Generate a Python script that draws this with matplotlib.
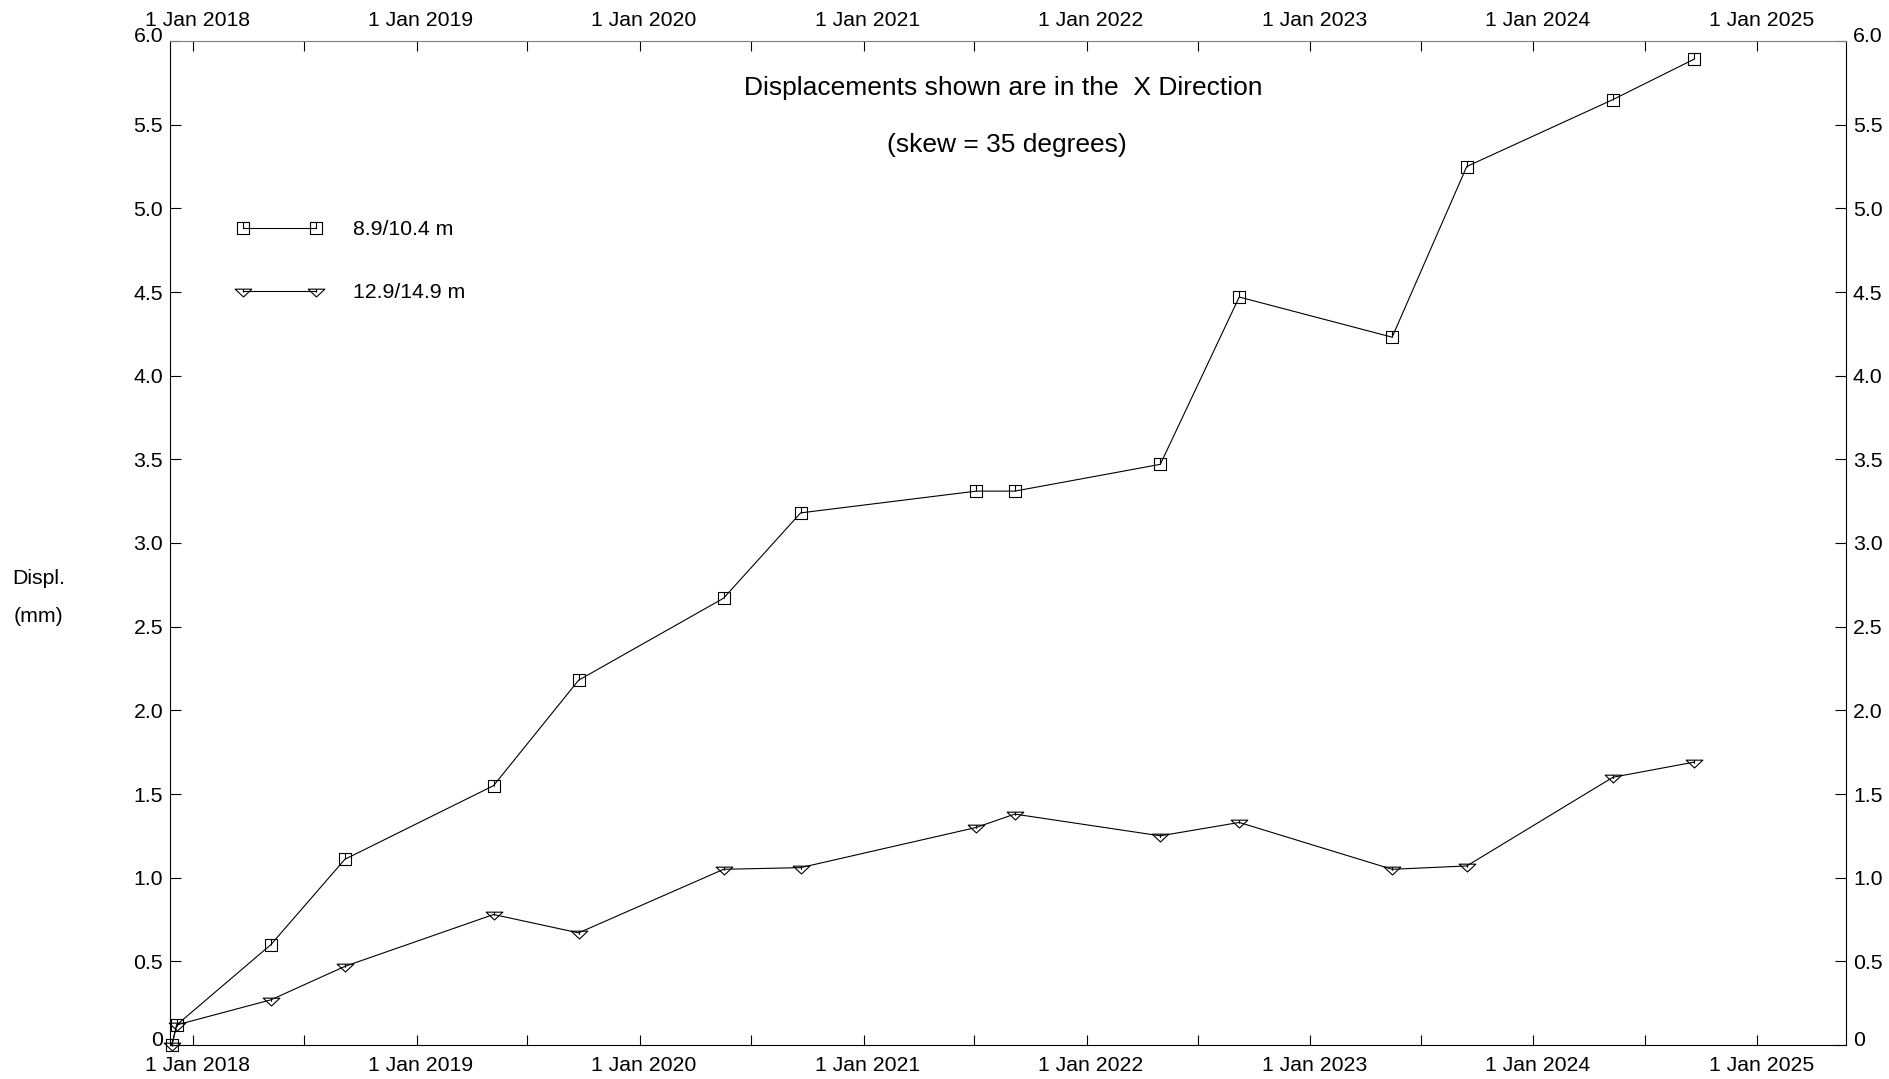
import matplotlib
matplotlib.use("Agg")
import matplotlib.pyplot as plt
import matplotlib.dates as mdates
import matplotlib.transforms as mtransforms
from matplotlib.path import Path
from matplotlib.ticker import FixedLocator, FuncFormatter
import pandas as pd

plt.rcParams["font.family"] = ["Liberation Sans", "DejaVu Sans"]

# survey dates (shared by both depths)
dates = [
    "2017-11-27", "2017-12-05", "2018-05-08", "2018-09-06", "2019-05-07",
    "2019-09-23", "2020-05-17", "2020-09-20", "2021-07-04", "2021-09-05",
    "2022-05-01", "2022-09-07", "2023-05-15", "2023-09-14", "2024-05-10",
    "2024-09-19",
]
disp_8_9 = [0.00, 0.12, 0.60, 1.11, 1.55, 2.18, 2.67, 3.18, 3.31, 3.31,
            3.47, 4.47, 4.23, 5.25, 5.65, 5.89]
disp_12_9 = [0.00, 0.12, 0.27, 0.47, 0.78, 0.67, 1.05, 1.06, 1.30, 1.38,
             1.25, 1.33, 1.05, 1.07, 1.60, 1.69]
labels = ["8.9/10.4 m", "12.9/14.9 m"]
y_ticks = [0, 0.5, 1.0, 1.5, 2.0, 2.5, 3.0, 3.5, 4.0, 4.5, 5.0, 5.5, 6.0]

FS = 15.3

x = pd.to_datetime(dates)

# markers: square / flat down-triangle with a small vertical tick inside
sq_marker = Path(
    [(-1, -1), (1, -1), (1, 1), (-1, 1), (-1, -1), (0, 1), (0, 0)],
    [Path.MOVETO, Path.LINETO, Path.LINETO, Path.LINETO, Path.CLOSEPOLY,
     Path.MOVETO, Path.LINETO],
)
tri_marker = Path(
    [(-1, 0.28), (1, 0.28), (0, -0.66), (-1, 0.28), (0, 0.28), (0, -0.15)],
    [Path.MOVETO, Path.LINETO, Path.LINETO, Path.CLOSEPOLY,
     Path.MOVETO, Path.LINETO],
)

fig = plt.figure(figsize=(18.89, 10.79), dpi=100)
ax = fig.add_axes([170 / 1889, 34 / 1079, (1846 - 170) / 1889, (1045 - 41) / 1079])

style = dict(color="black", lw=0.8, fillstyle="none", mec="black", mew=0.8, clip_on=False)
ax.plot(x, disp_8_9, marker=sq_marker, ms=9, label=labels[0], **style)
ax.plot(x, disp_12_9, marker=tri_marker, ms=12, label=labels[1], **style)

ax.set_xlim(pd.Timestamp("2017-11-24"), pd.Timestamp("2025-05-26"))
ax.set_ylim(0, 6)

ax.xaxis.set_major_locator(mdates.YearLocator())
ax.xaxis.set_major_formatter(FuncFormatter(lambda v, p: "1 Jan %d" % mdates.num2date(v).year))
ax.xaxis.set_minor_locator(mdates.MonthLocator(bymonth=7))
ax.yaxis.set_major_locator(FixedLocator(y_ticks))
ax.yaxis.set_major_formatter(FuncFormatter(lambda v, p: "0" if v == 0 else "%.1f" % v))

ax.tick_params(axis="x", which="both", direction="in", length=7, width=0.8,
               top=True, labeltop=True, labelsize=FS, pad=8)
ax.tick_params(axis="y", direction="in", length=8, width=0.8,
               right=True, labelright=True, labelsize=FS, pad=5)
for s in ax.spines.values():
    s.set_linewidth(0.8)
ax.spines["top"].set_color("#808080")

fig.text(1003 / 1889, 1 - 88 / 1079, "Displacements shown are in the  X Direction",
         ha="center", va="center", fontsize=19)
fig.text(1007 / 1889, 1 - 145 / 1079, "(skew = 35 degrees)",
         ha="center", va="center", fontsize=19)
fig.text(12 / 1889, 1 - 579 / 1079, "Displ.", ha="left", va="center", fontsize=FS)
fig.text(14 / 1889, 1 - 617 / 1079, "(mm)", ha="left", va="center", fontsize=FS)

ax.legend(loc="upper left", bbox_to_anchor=(237 / 1889, 1 - 220 / 1079),
          bbox_transform=fig.transFigure, frameon=False, numpoints=2,
          fontsize=FS, handlelength=4.04, handletextpad=1.44, labelspacing=2.07,
          borderpad=0, borderaxespad=0)

# end labels sit a little higher than their ticks; date labels a bit right
fig.canvas.draw()
up = mtransforms.ScaledTranslation(0, 5 / 72, fig.dpi_scale_trans)
ticks = ax.yaxis.get_major_ticks()
for t in (ticks[0], ticks[-1]):
    t.label1.set_transform(t.label1.get_transform() + up)
    t.label2.set_transform(t.label2.get_transform() + up)
right = mtransforms.ScaledTranslation(3 / 72, 0, fig.dpi_scale_trans)
for t in ax.xaxis.get_major_ticks():
    t.label1.set_transform(t.label1.get_transform() + right)
    t.label2.set_transform(t.label2.get_transform() + right)

fig.savefig("out.png", dpi=100)
